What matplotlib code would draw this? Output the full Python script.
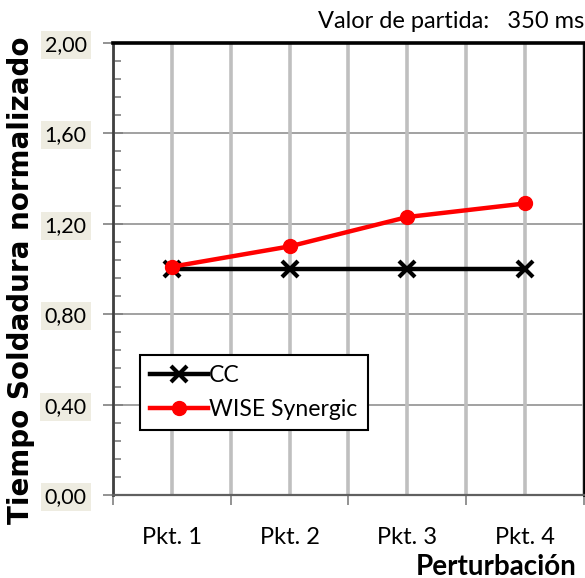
import matplotlib
matplotlib.use("Agg")
import matplotlib.pyplot as plt
import numpy as np

categories = ["Pkt. 1", "Pkt. 2", "Pkt. 3", "Pkt. 4"]
cc = [1.00, 1.00, 1.00, 1.00]
wise = [1.01, 1.10, 1.23, 1.29]
yticks = [0.0, 0.4, 0.8, 1.2, 1.6, 2.0]

plt.rcParams['font.family'] = ['Lato', 'DejaVu Sans']

fig = plt.figure(figsize=(5.85, 5.78), dpi=100)
ax = fig.add_axes([0.1932, 0.1436, 0.805, 0.782])

x = np.arange(len(categories))
ax.set_xlim(-0.5, len(categories) - 0.5)
ax.set_ylim(0, 2.0)

ax.set_xticks(np.arange(-0.5, len(categories), 1.0))
ax.set_xticklabels([])
ax.set_xticks(x, minor=True)
ax.set_xticklabels(categories, minor=True, fontsize=17)
for v in np.arange(-0.5, len(categories), 0.5):
    ax.axvline(v, color='#BFBFBF', lw=2.6, zorder=1)
ax.set_yticks(yticks)
ax.set_yticklabels([f"{v:.2f}".replace('.', ',') for v in yticks], fontsize=15.5)
ax.set_yticks(np.arange(0, 2.0001, 0.08), minor=True)
ax.yaxis.grid(True, which='major', color='#9A9A9A', lw=1.3, zorder=1)
ax.set_axisbelow(True)

ax.tick_params(axis='x', which='major', direction='out', length=7, width=1.2, color='#808080')
ax.tick_params(axis='x', which='minor', length=0, pad=23)
ax.tick_params(axis='y', which='major', direction='inout', length=14, width=1.2, color='#808080', pad=12)
ax.tick_params(axis='y', which='minor', direction='in', length=6, width=1.2, color='#808080', left=True)
for lab in ax.get_yticklabels():
    lab.set_bbox(dict(facecolor='#EEECE1', edgecolor='none', pad=3))

ax.spines['top'].set_linewidth(2.6)
ax.spines['top'].set_color('black')
ax.spines['right'].set_linewidth(2.0)
ax.spines['right'].set_color('black')
ax.spines['left'].set_linewidth(2.0)
ax.spines['left'].set_color('#404040')
ax.spines['bottom'].set_linewidth(1.6)
ax.spines['bottom'].set_color('#606060')

ax.plot(x, cc, color='black', lw=3.2, marker='x', ms=12, mew=3, label='CC', zorder=3)
ax.plot(x, wise, color='#FF0000', lw=3.2, marker='o', ms=10, mfc='#FF0000', mec='#FF0000',
        label='WISE Synergic', zorder=4)

leg = ax.legend(loc='lower left', bbox_to_anchor=(0.057, 0.143), fontsize=16.6,
                frameon=True, fancybox=False, borderpad=0.45, handlelength=2.5,
                handletextpad=0.05, labelspacing=0.55, borderaxespad=0)
leg.get_frame().set_edgecolor('black')
leg.get_frame().set_linewidth(1.5)
leg.get_frame().set_alpha(1)

ax.set_ylabel('Tiempo Soldadura normalizado', fontsize=20, fontweight='bold',
              family=['DejaVu Sans'])
ax.yaxis.set_label_coords(-0.166, 0.476)
fig.text(0.985, 0.006, 'Perturbación', ha='right', va='baseline', fontsize=20, fontweight='bold')
fig.text(0.999, 0.962, 'Valor de partida:   350 ms', ha='right', va='center', fontsize=17)

fig.savefig('out.png', dpi=100)
